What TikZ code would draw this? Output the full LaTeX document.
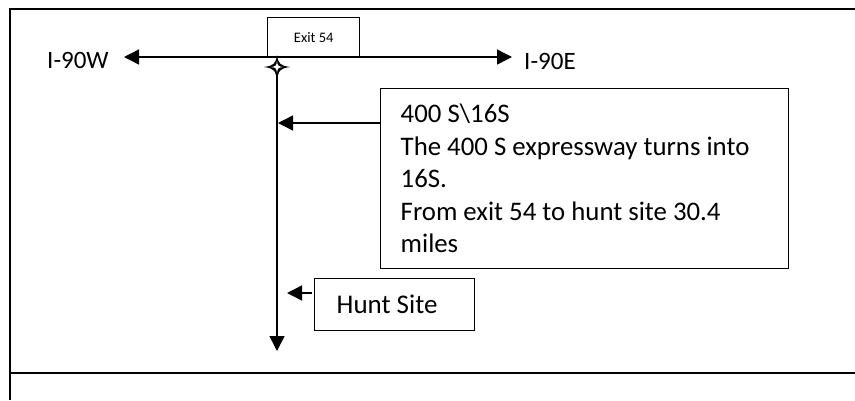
\documentclass[tikz,border=0pt]{standalone}
\usepackage{fontspec}
\setmainfont{Carlito}
\usetikzlibrary{arrows.meta,calc}
\tikzset{
  ln/.style={line width=1.4pt, draw=black},
  arr/.style={ln, -{Triangle[length=15pt,width=15pt]}},
  dblarr/.style={ln, {Triangle[length=15pt,width=15pt]}-{Triangle[length=15pt,width=15pt]}},
  boxnode/.style={draw=black, line width=1.4pt, rectangle, anchor=north west},
  lbl/.style={inner sep=0pt, anchor=base west},
}
\begin{document}
\begin{tikzpicture}[x=1pt,y=-1pt]
\useasboundingbox (0,0) rectangle (855,400);
% outer frame
\draw[ln] (855,9) -- (10,9) -- (10,400);
\draw[ln] (10,373) -- (855,373);
% coordinates
\coordinate (junc) at (277,67);
\coordinate (wtip) at (124,57);
\coordinate (etip) at (512,57);
\coordinate (stip) at (277,351);
\coordinate (tip1) at (278,123);
\coordinate (tip2) at (287,293);
% labels
\node[lbl, font=\fontsize{25}{29}\selectfont] (w) at (47,68) {I-90W};
\node[lbl, font=\fontsize{25}{29}\selectfont] (e) at (524,69) {I-90E};
% exit box
\node[boxnode, minimum width=92, minimum height=40, font=\fontsize{14.5}{17}\selectfont] (exit) at (267,17) {Exit 54};
% main road
\draw[dblarr] (wtip) -- (etip);
% south road
\draw[arr] (junc) -- (stip);
% junction star
\fill[black]
  ($(junc)+(0,-12)$) .. controls ($(junc)+(1.5,-3)$) and ($(junc)+(3,-1.5)$) .. ($(junc)+(13,0)$)
  .. controls ($(junc)+(3,1.5)$) and ($(junc)+(1.5,3)$) .. ($(junc)+(0,14)$)
  .. controls ($(junc)+(-1.5,3)$) and ($(junc)+(-3,1.5)$) .. ($(junc)+(-13,0)$)
  .. controls ($(junc)+(-3,-1.5)$) and ($(junc)+(-1.5,-3)$) .. cycle;
\fill[white]
  ($(junc)+(0,-6)$) .. controls ($(junc)+(0.6,-1)$) and ($(junc)+(1,-0.6)$) .. ($(junc)+(6,0)$)
  .. controls ($(junc)+(1,0.6)$) and ($(junc)+(0.6,1)$) .. ($(junc)+(0,6)$)
  .. controls ($(junc)+(-0.6,1)$) and ($(junc)+(-1,0.6)$) .. ($(junc)+(-6,0)$)
  .. controls ($(junc)+(-1,-0.6)$) and ($(junc)+(-0.6,-1)$) .. cycle;
% info box
\node[boxnode, minimum width=408, minimum height=180, inner xsep=20pt, inner ysep=0pt,
  text width=368, align=flush left, font=\fontsize{26.8}{32.5}\selectfont] (info) at (380,88)
  {400 S\textbackslash 16S\\The 400 S expressway turns into\\16S.\\From exit 54 to hunt site 30.4\\miles};
\draw[arr] (info.west |- tip1) -- (tip1);
% hunt site box
\node[boxnode, minimum width=160, minimum height=52, inner xsep=22pt, inner ysep=0pt,
  text width=116, align=flush left, font=\fontsize{27}{32}\selectfont] (hunt) at (314,278) {Hunt Site};
\coordinate (htail) at ($(hunt.west |- tip2)+(-2,0)$);
\draw[arr] (htail) -- (tip2);
\end{tikzpicture}
\end{document}
